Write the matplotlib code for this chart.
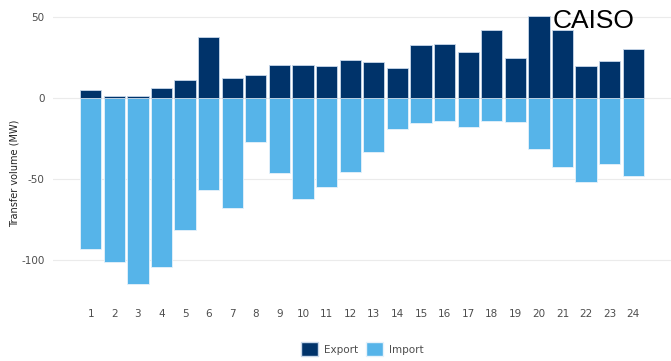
import matplotlib
matplotlib.use("Agg")
import matplotlib.pyplot as plt
from matplotlib.patches import Patch

hours = list(range(1, 25))
export_mw = [5, 1.2, 1.2, 6.2, 11.3, 37.6, 12.1, 13.9, 20.2, 20.0, 19.5, 23.6,
             22.2, 18.7, 32.9, 33.5, 28.6, 42.0, 24.4, 50.8, 42.2, 19.8, 22.6, 30.1]
import_mw = [-93.2, -101.7, -114.8, -104.3, -81.9, -57.2, -68.1, -27.2, -46.5, -62.2,
             -55.2, -45.7, -33.6, -19.0, -15.7, -14.6, -17.9, -14.6, -15.0, -31.7,
             -42.6, -51.9, -40.6, -48.0]
yticks = [-100, -50, 0, 50]

export_color = "#00336a"
import_color = "#56b4e9"
text_color = "#4d4d4d"

fig = plt.figure(figsize=(6.71, 3.61), dpi=100)
ax = fig.add_axes([0.079, 0.191, 0.921, 0.780])

ax.bar(hours, import_mw, width=0.9, color=import_color, edgecolor="#e6f2fb",
       linewidth=0.6, zorder=2)
ax.bar(hours, export_mw, width=0.9, color=export_color, edgecolor="#c8d8ea",
       linewidth=0.6, zorder=2)

ax.set_xlim(-0.6, 25.6)
ax.set_ylim(-120, 54)
ax.set_xticks(hours)
ax.set_xticklabels([str(h) for h in hours])
ax.set_yticks(yticks)
ax.set_yticklabels([str(v) for v in yticks])
ax.tick_params(axis="both", length=0, labelsize=7.5, colors=text_color)
ax.tick_params(axis="x", pad=12)
ax.tick_params(axis="y", pad=6)
for s in ax.spines.values():
    s.set_visible(False)
ax.grid(axis="y", color="#ebebeb", linewidth=0.8, zorder=0)
ax.set_axisbelow(True)

fig.text(0.022, 0.52, "Transfer volume (MW)", rotation=90, ha="center",
         va="center", fontsize=7, color="#222222")

fig.text(553 / 671, 1 - 28 / 361, "CAISO", fontsize=19,
         family="Liberation Sans", color="black", ha="left", va="baseline")

handles = [Patch(facecolor=export_color, edgecolor="#c8d8ea", label="Export"),
           Patch(facecolor=import_color, edgecolor="#e6f2fb", label="Import")]
fig.legend(handles=handles, loc="center", bbox_to_anchor=(0.54, 0.032),
           ncol=2, frameon=False, fontsize=7.5, handlelength=1.6,
           handleheight=1.7, handletextpad=0.6, columnspacing=0.8,
           labelcolor=text_color)

fig.savefig("out.png", dpi=100)
